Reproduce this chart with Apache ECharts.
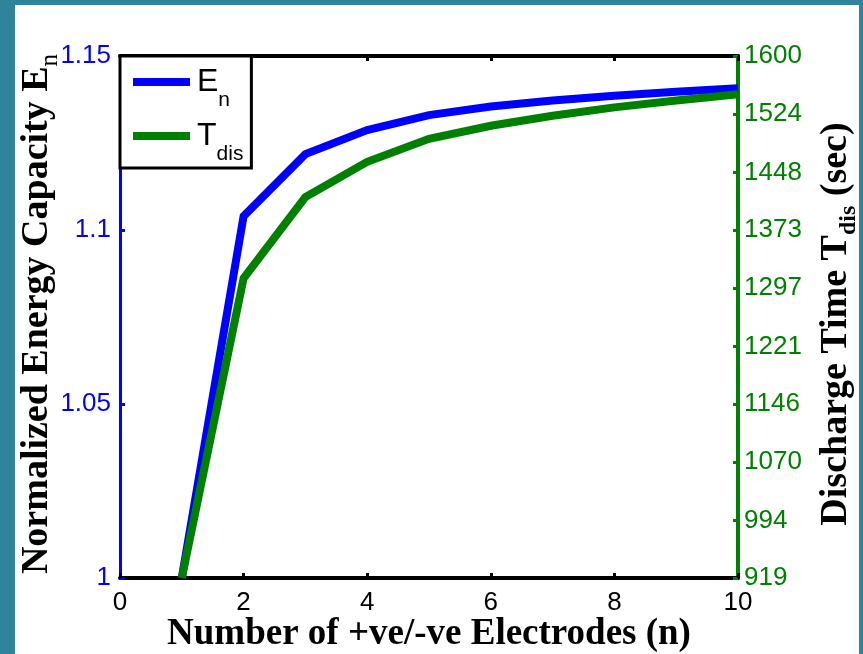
<!DOCTYPE html>
<html>
<head>
<meta charset="utf-8">
<script src="https://cdn.jsdelivr.net/npm/echarts@6/dist/echarts.min.js"></script>
<style>
  html, body { margin: 0; padding: 0; background: #2f849b; width: 863px; height: 654px; overflow: hidden; }
  #paper { position: absolute; left: 15px; top: 5px; width: 844px; height: 649px; background: #ffffff; }
  #chart { position: absolute; left: 0; top: 0; width: 863px; height: 654px; }
</style>
</head>
<body>
<div id="paper"></div>
<div id="chart"></div>
<script>
// Number of +ve/-ve electrodes (n)
const electrodes = [1, 2, 3, 4, 5, 6, 7, 8, 9, 10];
// Normalized energy capacity E_n (left axis)
const energyCapacity = [1.0, 1.104, 1.1218, 1.1287, 1.1330, 1.1355, 1.1372, 1.1386, 1.1397, 1.1407];
// Discharge time T_dis in seconds (right axis)
const dischargeTime = [919, 1310, 1416, 1462, 1492, 1509, 1522, 1533, 1542, 1550];
// Right-axis tick labels as printed
const rightTicks = [919, 994, 1070, 1146, 1221, 1297, 1373, 1448, 1524, 1600];

const BLUE = '#0000ff';
const GREEN = '#008000';
const SANS = '"Liberation Sans", Arial, sans-serif';
const SERIF = '"Liberation Serif", "Times New Roman", serif';

const chart = echarts.init(document.getElementById('chart'), null, { renderer: 'canvas' });

chart.setOption({
  animation: false,
  backgroundColor: 'transparent',
  grid: { left: 120, right: 125, top: 56, bottom: 76, containLabel: false, outerBoundsMode: 'none' },
  legend: {
    left: 120, top: 56,
    orient: 'vertical',
    icon: 'rect',
    itemWidth: 57, itemHeight: 8,
    itemGap: 9,
    padding: [10, 8, 3, 13],
    backgroundColor: '#ffffff',
    borderColor: '#000000',
    borderWidth: 3,
    borderRadius: 0,
    textStyle: {
      fontFamily: SANS,
      color: '#000',
      rich: {
        m: { fontFamily: SANS, fontSize: 32, lineHeight: 32, color: '#000', verticalAlign: 'top', padding: [0, 0, 0, 2] },
        s: { fontFamily: SANS, fontSize: 21, lineHeight: 21, color: '#000', verticalAlign: 'top', padding: [24, 0, 0, 0] }
      }
    },
    formatter: function (name) {
      return name === 'E_n' ? '{m|E}{s|n}' : '{m|T}{s|dis}';
    },
    data: ['E_n', 'T_dis']
  },
  xAxis: [
    {
      type: 'value', position: 'bottom', min: 0, max: 10, interval: 2,
      name: 'Number of +ve/-ve Electrodes (n)',
      nameLocation: 'middle', nameGap: 38, nameMoveOverlap: false,
      nameTextStyle: { fontFamily: SERIF, fontWeight: 'bold', fontSize: 37, color: '#000' },
      axisLine: { show: true, onZero: false, lineStyle: { color: '#000', width: 4 } },
      axisTick: { show: true, inside: true, length: 5, lineStyle: { color: '#000', width: 3 } },
      axisLabel: { show: true, margin: 12, fontFamily: SANS, fontSize: 26, color: '#000' },
      splitLine: { show: false }
    },
    {
      type: 'value', position: 'top', min: 0, max: 10, interval: 2,
      axisLine: { show: true, onZero: false, lineStyle: { color: '#000', width: 4 } },
      axisTick: { show: true, inside: true, length: 5, lineStyle: { color: '#000', width: 3 } },
      axisLabel: { show: false },
      splitLine: { show: false }
    }
  ],
  yAxis: [
    {
      type: 'value', position: 'left', min: 1, max: 1.15, interval: 0.05,
      name: '{t|Normalized Energy Capacity E}{s|n}',
      nameLocation: 'middle', nameGap: 64, nameRotate: 90, nameMoveOverlap: false,
      nameTextStyle: {
        fontFamily: SERIF, fontWeight: 'bold', fontSize: 38, color: '#000',
        padding: [0, 0, 0, 6],
        rich: {
          t: { fontFamily: SERIF, fontWeight: 'bold', fontSize: 38, lineHeight: 38, color: '#000', verticalAlign: 'top' },
          s: { fontFamily: SERIF, fontWeight: 'normal', fontSize: 25, lineHeight: 25, color: '#000', verticalAlign: 'top', padding: [20, 0, 0, 0] }
        }
      },
      axisLine: { show: true, onZero: false, lineStyle: { color: BLUE, width: 3 } },
      axisTick: { show: true, inside: true, length: 5, lineStyle: { color: BLUE, width: 3 } },
      axisLabel: {
        show: true, margin: 9, fontFamily: SANS, fontSize: 26, color: BLUE,
        formatter: function (v) { return String(Math.round(v * 100) / 100); }
      },
      splitLine: { show: false }
    },
    {
      type: 'value', position: 'right', min: 919, max: 1600,
      name: '{t|Discharge Time T}{s|dis}{t| (sec)}',
      nameLocation: 'middle', nameGap: 79, nameRotate: 90, nameMoveOverlap: false,
      nameTextStyle: {
        fontFamily: SERIF, fontWeight: 'bold', fontSize: 38, color: '#000',
        padding: [0, 14, 0, 0],
        rich: {
          t: { fontFamily: SERIF, fontWeight: 'bold', fontSize: 38, lineHeight: 38, color: '#000', verticalAlign: 'top' },
          s: { fontFamily: SERIF, fontWeight: 'bold', fontSize: 24, lineHeight: 24, color: '#000', verticalAlign: 'top', padding: [20, 0, 0, 0] }
        }
      },
      axisLine: { show: true, onZero: false, lineStyle: { color: GREEN, width: 4 } },
      axisTick: { show: true, inside: true, length: 5, customValues: rightTicks, lineStyle: { color: GREEN, width: 3 } },
      axisLabel: {
        show: true, margin: 6, fontFamily: SANS, fontSize: 26, color: GREEN,
        customValues: rightTicks,
        formatter: function (v) { return String(Math.round(v)); }
      },
      splitLine: { show: false }
    }
  ],
  series: [
    {
      name: 'E_n', type: 'line', xAxisIndex: 0, yAxisIndex: 0,
      data: electrodes.map((x, i) => [x, energyCapacity[i]]),
      showSymbol: false, symbol: 'none', color: BLUE,
      lineStyle: { color: BLUE, width: 8, join: 'miter', cap: 'butt' },
      z: 2
    },
    {
      name: 'T_dis', type: 'line', xAxisIndex: 0, yAxisIndex: 1,
      data: electrodes.map((x, i) => [x, dischargeTime[i]]),
      showSymbol: false, symbol: 'none', color: GREEN,
      lineStyle: { color: GREEN, width: 8, join: 'miter', cap: 'butt' },
      z: 3
    }
  ]
});
</script>
</body>
</html>
